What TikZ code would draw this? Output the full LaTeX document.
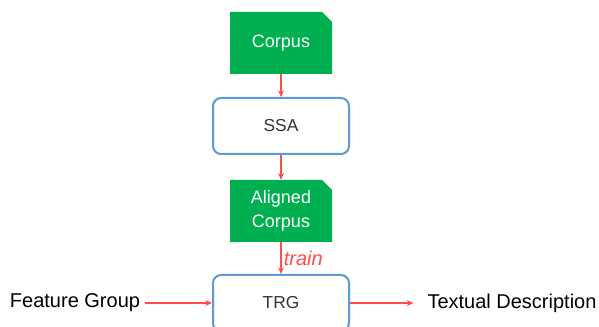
\documentclass[tikz,border=0pt]{standalone}
\usepackage{fontspec}
\setmainfont{Liberation Sans}
\usepackage{xcolor}
\definecolor{docgreen}{HTML}{00B050}
\definecolor{flowred}{HTML}{FF4D4D}
\definecolor{boxblue}{HTML}{5B9BD5}
\definecolor{boxtext}{HTML}{333333}
\usetikzlibrary{arrows.meta}

\tikzset{
	docbox/.style={minimum width=76.5pt,minimum height=46.5pt,inner sep=0pt,
		text=white,align=center,font=\fontsize{13.5}{18}\selectfont,
		path picture={\fill[docgreen] (path picture bounding box.south west)
			|- ([xshift=-7.5pt]path picture bounding box.north east)
			-- ([yshift=-7.5pt]path picture bounding box.north east)
			|- cycle;}},
	modbox/.style={draw=boxblue,line width=1.5pt,rounded corners=6pt,
		minimum width=102pt,minimum height=42pt,text=boxtext,
		font=\fontsize{13}{15}\selectfont},
	flow/.style={-{Stealth[length=5pt,width=4.5pt]},draw=flowred,line width=1.2pt},
	plain/.style={font=\fontsize{15}{18}\selectfont,text=black}
}

\begin{document}
\begin{tikzpicture}
			[x=0.75pt,y=-0.75pt]
			
			\useasboundingbox (0,0) rectangle (599,327);
			
			\node[docbox] (corpus) at (281,43) {Corpus};
			\node[modbox] (ssa) at (281,126) {SSA};
			\node[docbox] (aligned) at (281,211) {Aligned\\Corpus};
			\node[modbox] (trg) at (281,303) {TRG};
			\node[plain] (feature) at (75,303) {Feature Group};
			\node[plain] (textual) at (512,303) {Textual Description};
			
			\draw[flow] (corpus.south) -- (ssa.north);
			\draw[flow] (ssa.south) -- (aligned.north);
			\draw[flow] (aligned.south) -- (trg.north)
			node[midway,right,inner sep=1.5pt,text=flowred,font=\fontsize{15}{18}\selectfont\itshape]{train};
			\draw[flow] (feature.east) -- (trg.west);
			\draw[flow] (trg.east) -- ([xshift=-7pt]textual.west);
			
		\end{tikzpicture}
\end{document}
